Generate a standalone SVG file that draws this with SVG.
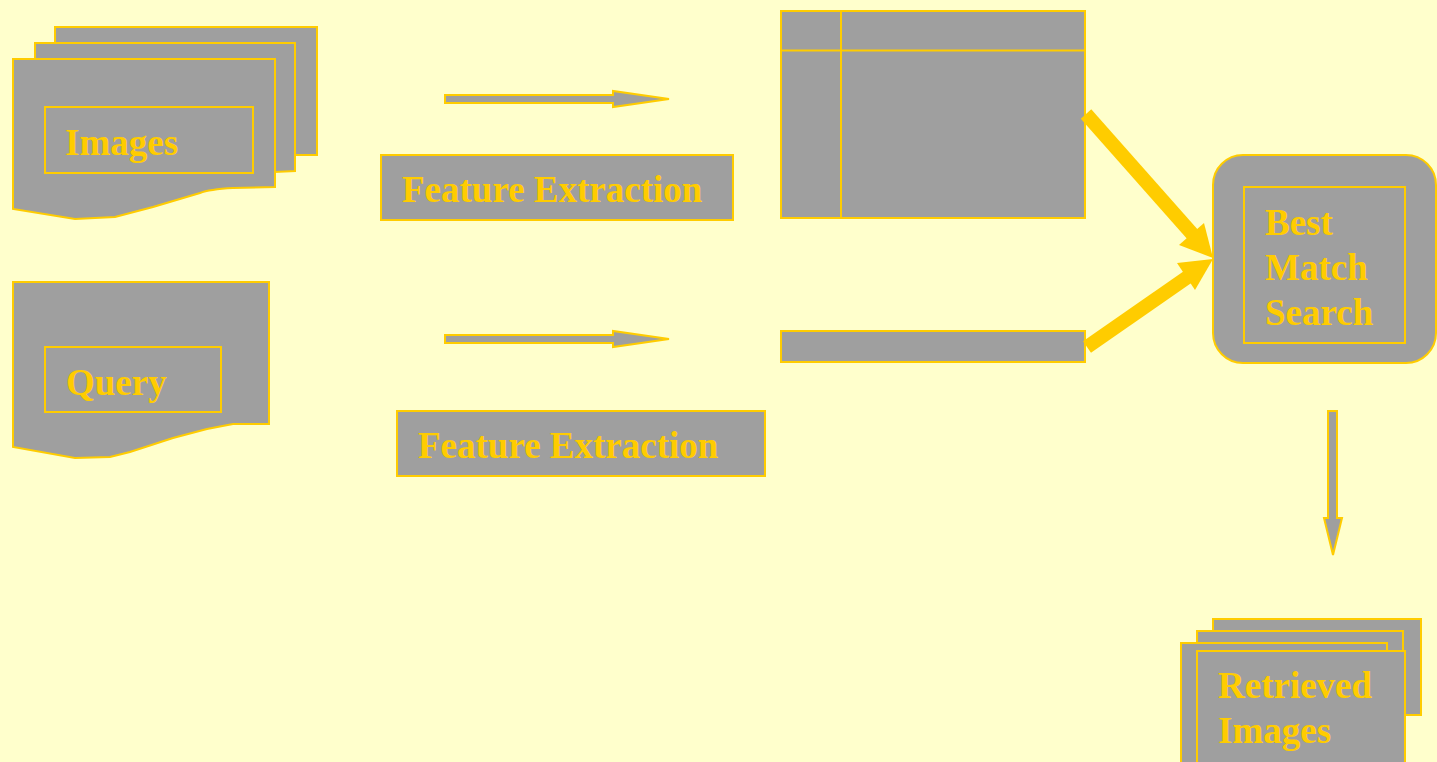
<svg xmlns="http://www.w3.org/2000/svg" width="1437" height="762" viewBox="0 0 1437 762">
  <defs>
    <style>
      .shape { fill: #9f9f9f; stroke: #ffcc00; stroke-width: 2; }
      .line { fill: none; stroke: #ffcc00; stroke-width: 2; }
      .label { font-family: "Liberation Serif", "Times New Roman", serif; font-weight: bold; font-size: 37px; fill: #ffcc00; }
      .thick { fill: #ffcc00; stroke: none; }
    </style>
  </defs>
  <rect x="0" y="0" width="1437" height="762" fill="#ffffcc"/>

  <!-- Image collection (stacked documents) -->
  <g id="images">
    <rect class="shape" x="55" y="27" width="262" height="128"/>
    <path class="shape" d="M35,43 H295 V171 L275,172 V59 H35 Z"/>
    <path class="shape" d="M13,59 H275 V187 L233,188 C215,189 205,191 200,193 L153,207 L115,217 L75,219 L13,209 Z"/>
    <rect class="line" x="45" y="107" width="208" height="66"/>
    <text class="label" x="65" y="155">Images</text>
  </g>

  <!-- Query document -->
  <g id="query">
    <path class="shape" d="M13,282 H269 V424 H233 L207,429 L173,438 L130,452 L110,457 L75,458 L13,447 Z"/>
    <rect class="line" x="45" y="347" width="176" height="65"/>
    <text class="label" x="66" y="395">Query</text>
  </g>

  <!-- Feature extraction labels -->
  <g id="feature-extraction-1">
    <rect class="shape" x="381" y="155" width="352" height="65"/>
    <text class="label" x="402" y="202">Feature Extraction</text>
  </g>
  <g id="feature-extraction-2">
    <rect class="shape" x="397" y="411" width="368" height="65"/>
    <text class="label" x="418" y="458">Feature Extraction</text>
  </g>

  <!-- Feature database table -->
  <g id="feature-table">
    <rect class="shape" x="781" y="11" width="304" height="207"/>
    <line class="line" x1="781" y1="50.5" x2="1085" y2="50.5"/>
    <line class="line" x1="841" y1="11" x2="841" y2="218"/>
  </g>

  <!-- Query feature vector -->
  <g id="query-vector">
    <rect class="shape" x="781" y="331" width="304" height="31"/>
  </g>

  <!-- Matching stage -->
  <g id="best-match">
    <rect class="shape" x="1213" y="155" width="223" height="208" rx="30" ry="30"/>
    <rect class="line" x="1244" y="187" width="161" height="156"/>
    <text class="label" x="1265" y="235">Best</text>
    <text class="label" x="1265" y="280">Match</text>
    <text class="label" x="1265" y="325">Search</text>
  </g>

  <!-- Result set (stacked documents) -->
  <g id="retrieved-images">
    <rect class="shape" x="1213" y="619" width="208" height="96"/>
    <rect class="shape" x="1197" y="631" width="206" height="140"/>
    <path class="shape" d="M1181,643 H1387 V780 H1181 Z"/>
    <rect class="shape" x="1197" y="651" width="208" height="130"/>
    <text class="label" x="1218" y="698">Retrieved</text>
    <text class="label" x="1218" y="743">Images</text>
  </g>

  <!-- Connectors -->
  <g id="connectors">
    <path class="shape" stroke-width="1.5" d="M445,95 H613 V91 L669,99 L613,107 V103 H445 Z"/>
    <path class="shape" stroke-width="1.5" d="M445,335 H613 V331 L669,339 L613,347 V343 H445 Z"/>
    <!-- thick arrows into the matcher -->
    <line x1="1086" y1="114" x2="1194" y2="236" stroke="#ffcc00" stroke-width="14"/>
    <polygon class="thick" points="1213,258 1179,245 1204,223"/>
    <line x1="1087" y1="347" x2="1192" y2="274" stroke="#ffcc00" stroke-width="14"/>
    <polygon class="thick" points="1213,259 1177,263 1195,290"/>
    <!-- output arrow -->
    <path class="shape" stroke-width="1.5" d="M1328,411 H1337 V518 H1342 L1333,555 L1324,518 H1328 Z"/>
  </g>
</svg>
